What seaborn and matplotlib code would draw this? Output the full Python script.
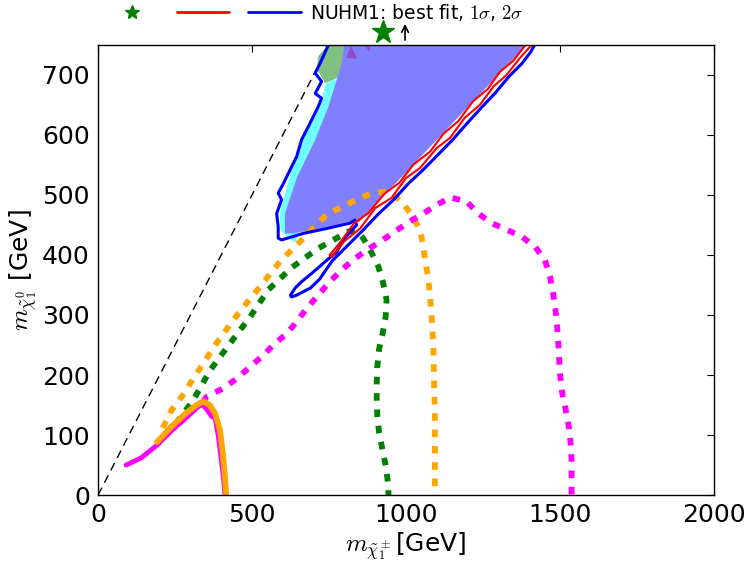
import numpy as np
import pandas as pd
import seaborn as sns
import matplotlib
matplotlib.use('Agg')
import matplotlib.pyplot as plt
from matplotlib.lines import Line2D

# masses in GeV
# 2sigma preferred region (filled)
fill_x = [800, 1392, 848, 832, 790, 740, 700, 634, 607, 607, 645, 705, 748, 791, 800]
fill_y = [750, 750, 455, 458, 452, 446, 442, 436, 436, 469, 528, 592, 647, 718, 750]
cyan_x = [593, 590, 625, 665, 720, 740, 791, 830, 700, 640]
cyan_y = [440, 470, 536, 592, 647, 686, 697, 700, 500, 420]
green_x = [715, 748, 813, 786, 737, 710]
green_y = [731, 750, 750, 697, 686, 711]
purple1_x = [805, 822, 842]
purple1_y = [728, 748, 727]
purple2_x = [868, 885, 880]
purple2_y = [749, 749, 738]

# 2sigma contour
c2_x = [748, 721, 705, 726, 705, 726, 715, 683, 661, 645, 618, 602, 585, 596, 580, 585, 585, 596,
        667, 742, 818, 834, 840, 800, 775, 740, 700, 660, 640, 625, 628, 645, 690, 720, 760, 805,
        858, 910, 960, 1008, 1054, 1108, 1150, 1198, 1248, 1268, 1292, 1334, 1377, 1405, 1420]
c2_y = [750, 719, 703, 689, 669, 661, 647, 614, 592, 564, 536, 519, 503, 492, 469, 447, 428, 425,
        436, 444, 453, 458, 450, 428, 405, 390, 372, 355, 345, 333, 330, 333, 345, 360, 390, 413,
        440, 468, 492, 519, 541, 569, 591, 619, 647, 658, 671, 697, 719, 738, 752]

# 1sigma contour (thin band)
c1_x = [759, 800, 851, 900, 953, 1000, 1046, 1100, 1143, 1190, 1240, 1285, 1327, 1370, 1412,
        1392, 1348, 1305, 1265, 1218, 1170, 1122, 1078, 1025, 978, 930, 878, 830, 785, 752, 759]
c1_y = [397, 423, 444, 478, 495, 528, 545, 578, 595, 628, 650, 681, 700, 728, 752,
        752, 723, 705, 676, 656, 623, 602, 572, 551, 520, 502, 470, 452, 420, 400, 397]

# exclusion curves
ora_dash_x = [210, 239, 272, 299, 331, 391, 456, 521, 591, 667, 742, 840, 889, 943, 986,
              1018, 1046, 1056, 1073, 1083, 1089, 1091, 1094, 1094, 1094]
ora_dash_y = [112, 142, 164, 186, 211, 258, 303, 344, 389, 428, 467, 492, 503, 506, 489,
              467, 442, 414, 358, 303, 247, 192, 136, 81, 0]
grn_dash_x = [215, 245, 277, 309, 364, 429, 494, 553, 629, 715, 813, 840, 861, 889, 910, 926,
              937, 934, 924, 913, 907, 905, 905, 907, 913, 924, 935, 943, 943]
grn_dash_y = [100, 114, 136, 158, 208, 253, 297, 342, 379, 411, 439, 440, 428, 403, 381, 353,
              325, 297, 269, 244, 214, 186, 158, 131, 103, 75, 47, 14, 0]
mag_dash_x = [340, 353, 407, 450, 494, 537, 575, 613, 645, 678, 715, 748, 791, 829, 872, 916,
              964, 1013, 1056, 1099, 1143, 1197, 1235, 1278, 1327, 1375, 1419, 1451, 1468, 1478,
              1486, 1491, 1495, 1500, 1508, 1519, 1529, 1535, 1538, 1538]
mag_dash_y = [155, 164, 178, 194, 214, 233, 253, 269, 289, 311, 333, 353, 375, 392, 408, 422,
              439, 456, 469, 483, 496, 489, 469, 453, 442, 431, 414, 392, 364, 336,
              308, 281, 253, 203, 169, 142, 114, 86, 58, 0]
mag_sol_x = [91, 140, 191, 240, 289, 320, 335, 348, 369, 380, 390, 400, 408, 412]
mag_sol_y = [50, 62, 83, 108, 130, 145, 151, 146, 131, 128, 100, 60, 25, 0]
ora_sol_x = [191, 240, 289, 320, 342, 362, 380, 396, 405, 412, 416]
ora_sol_y = [88, 115, 138, 150, 156, 150, 136, 108, 70, 30, 0]

best_fit = (925, 772)
arrow_x = 997  # best fit lies above the plotted range

sns.set_style('white')
plt.rcParams['mathtext.fontset'] = 'cm'
plt.rcParams['font.family'] = ['DejaVu Sans']
plt.rcParams['text.color'] = 'black'
plt.rcParams['axes.labelcolor'] = 'black'
plt.rcParams['xtick.color'] = 'black'
plt.rcParams['ytick.color'] = 'black'


def curve(x, y, **kw):
    # keep the drawing order of the points, no aggregation
    sns.lineplot(x=x, y=y, sort=False, estimator=None, ax=ax, **kw)


fig = plt.figure(figsize=(7.49, 5.75), dpi=100)
ax = fig.add_axes([0.131, 0.139, 0.822, 0.783])

ax.fill(cyan_x, cyan_y, color='#70ffff', lw=0)
ax.fill(green_x, green_y, color='#80c080', lw=0)
ax.fill(fill_x, fill_y, color='#8080ff', lw=0)
ax.fill(purple1_x, purple1_y, color='#8a50c8', lw=0)
ax.fill(purple2_x, purple2_y, color='#8a50c8', lw=0)

ax.plot([0, 750], [0, 750], color='black', lw=1, dashes=(6, 4))

dash = (0, (1.3, 1.5))
curve(ora_dash_x, ora_dash_y, color='orange', lw=4.2, linestyle=dash)
curve(grn_dash_x, grn_dash_y, color='green', lw=4.2, linestyle=dash)
curve(mag_dash_x, mag_dash_y, color='magenta', lw=4.2, linestyle=dash)
curve(mag_sol_x, mag_sol_y, color='magenta', lw=3.5)
curve(ora_sol_x, ora_sol_y, color='orange', lw=4.2)

curve(c2_x, c2_y, color='blue', lw=2.2)
curve(c1_x, c1_y, color='red', lw=1.5)

ax.plot(*best_fit, marker='*', color='green', ms=17, clip_on=False, lw=0)
ax.annotate('', xy=(arrow_x, 785), xytext=(arrow_x, 758), annotation_clip=False,
            arrowprops=dict(arrowstyle='->', color='black', lw=1.2,
                            shrinkA=0, shrinkB=0, mutation_scale=12))

ax.set_xlim(0, 2000)
ax.set_ylim(0, 750)
ax.set_xticks([0, 500, 1000, 1500, 2000])
ax.set_yticks([0, 100, 200, 300, 400, 500, 600, 700])
ax.tick_params(direction='in', length=5, width=0.8, top=True, right=True,
               labelsize=18, color='black', labelcolor='black', pad=6)
for s in ax.spines.values():
    s.set_color('black')
    s.set_linewidth(1.0)

ax.set_xlabel(r'$m_{\tilde{\chi}_1^\pm}$[GeV]', fontsize=18, labelpad=2)
ax.set_ylabel(r'$m_{\tilde{\chi}_1^0}$ [GeV]', fontsize=18, labelpad=2)

handles = [Line2D([], [], marker='*', color='green', ms=10, lw=0),
           Line2D([], [], color='red', lw=2),
           Line2D([], [], color='blue', lw=2)]
labels = ['', '', r'NUHM1: best fit, $1\sigma$, $2\sigma$']
fig.legend(handles, labels, ncol=3, frameon=False, fontsize=13.5, handlelength=2.8,
           handletextpad=0.5, columnspacing=0.5, loc='center',
           bbox_to_anchor=(0.42, 0.979), borderaxespad=0, borderpad=0)

fig.savefig('out.png', dpi=100)
